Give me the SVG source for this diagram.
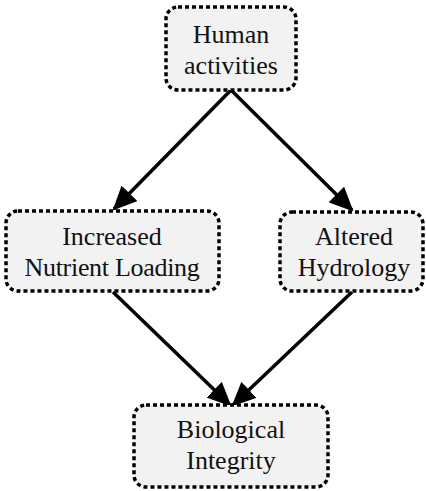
<svg xmlns="http://www.w3.org/2000/svg" width="426" height="491" viewBox="0 0 426 491">
<style>
.box{fill:#f2f2f2;stroke:#000;stroke-width:3.5;stroke-dasharray:4 3;}
.t{font-family:"Liberation Serif","Times New Roman",serif;font-size:26px;fill:#111;text-anchor:middle;}
.c{stroke:#000;stroke-width:3.5;fill:none;marker-end:url(#ah);}
</style>
<defs>
<marker id="ah" markerUnits="userSpaceOnUse" markerWidth="24" markerHeight="22" viewBox="0 0 24 22" refX="22" refY="11" orient="auto">
<path d="M0,0 L24,11 L0,22 Z" fill="#000"/>
</marker>
</defs>
<rect width="426" height="491" fill="#fff"/>
<g id="connectors">
<line class="c" x1="231" y1="90" x2="114" y2="209"/>
<line class="c" x1="231" y1="90" x2="352" y2="210"/>
<line class="c" x1="113" y1="292" x2="230" y2="405"/>
<line class="c" x1="352" y1="292" x2="233" y2="405"/>
</g>
<g id="human">
<rect class="box" x="166" y="7" width="130" height="83" rx="12"/>
<text class="t" x="231" y="43">Human</text>
<text class="t" x="231" y="74">activities</text>
</g>
<g id="nutrient">
<rect class="box" x="6" y="211" width="213" height="80" rx="12"/>
<text class="t" x="112" y="245">Increased</text>
<text class="t" x="112" y="276" letter-spacing="-0.3">Nutrient Loading</text>
</g>
<g id="hydrology">
<rect class="box" x="280" y="212" width="143" height="79" rx="12"/>
<text class="t" x="354" y="245">Altered</text>
<text class="t" x="354" y="276">Hydrology</text>
</g>
<g id="integrity">
<rect class="box" x="134" y="405" width="194" height="82" rx="12"/>
<text class="t" x="231" y="438">Biological</text>
<text class="t" x="231" y="469">Integrity</text>
</g>
</svg>
